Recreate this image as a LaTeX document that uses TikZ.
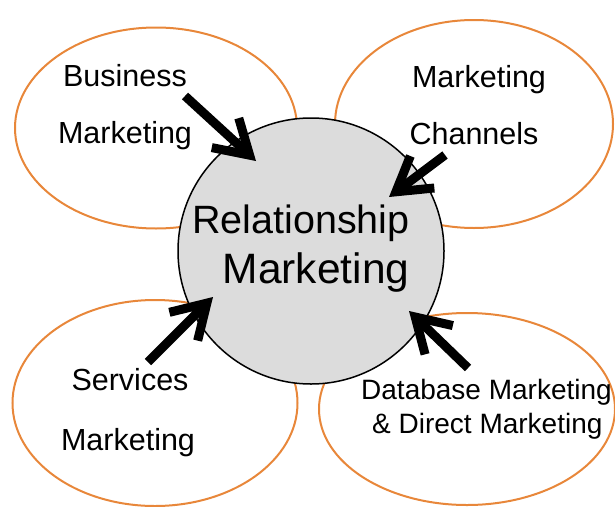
\documentclass[tikz,border=0pt]{standalone}
\usepackage{fontspec}
\setmainfont{Liberation Sans}
\usetikzlibrary{shapes.geometric,
arrows.meta,
positioning}
\definecolor{fieldorange}{HTML}{E8873A}
\definecolor{hubgray}{HTML}{DCDCDC}
\tikzset{
  % style for the four outer ellipses
  field/.style={
    draw=fieldorange,
    line width=2pt,
    ellipse,
    inner sep=0pt,
  },
  % style for the words inside the ellipses
  fieldtext/.style={
    font=\fontsize{30.5}{36}\selectfont,
    inner sep=0pt,
    anchor=base,
  },
  % style for the thick arrows pointing at the hub
  push/.style={
    line width=9pt,
    -{Straight Barb[length=33pt,width=40pt]},
  },
}

\begin{document}
\begin{tikzpicture}[x=1pt,y=-1pt]
            \useasboundingbox (0,0) rectangle (615,506);
            \node[field,minimum width=282pt,minimum height=201pt] (BusF) at (156,128) {};
            \node[field,minimum width=278pt,minimum height=208pt] (ChanF) at (474,124) {};
            \node[field,minimum width=285pt,minimum height=206pt] (ServF) at (155,403) {};
            \node[field,minimum width=296pt,minimum height=192pt] (DataF) at (467,409) {};
            \node[circle,draw,fill=hubgray,line width=1.5pt,minimum size=266pt] (hub) at (311,251) {};

            \node[font=\fontsize{39.5}{44}\selectfont,inner sep=0pt,anchor=base] (rel) at (301,233) {Relationship};
            \node[font=\fontsize{42.5}{48}\selectfont,inner sep=0pt,anchor=base] (relm) at (316,283) {Marketing};

            \node[fieldtext] (bus) at (125,86) {Business};
            \node[fieldtext] (busm) at (125,143) {Marketing};
            \node[fieldtext] (chanm) at (479,87) {Marketing};
            \node[fieldtext] (chan) at (474,144) {Channels};
            \node[fieldtext] (serv) at (130,390) {Services};
            \node[fieldtext] (servm) at (128,450) {Marketing};
            \node[fieldtext,font=\fontsize{28}{34}\selectfont,anchor=base west] (data) at (361,399) {Database Marketing};
            \node[fieldtext,font=\fontsize{28}{34}\selectfont,anchor=base west] (direct) at (372,433) {\& Direct Marketing};

            \coordinate (busT) at (185,96);
            \coordinate (busH) at (256,161);
            \coordinate (chanT) at (445,155);
            \coordinate (chanH) at (389,197);
            \coordinate (servT) at (148,362);
            \coordinate (servH) at (213,297);
            \coordinate (dataT) at (468,368);
            \coordinate (dataH) at (409,311);

            \draw[push] (busT) -- (busH);
            \draw[push] (chanT) -- (chanH);
            \draw[push] (servT) -- (servH);
            \draw[push] (dataT) -- (dataH);
        \end{tikzpicture}
\end{document}
